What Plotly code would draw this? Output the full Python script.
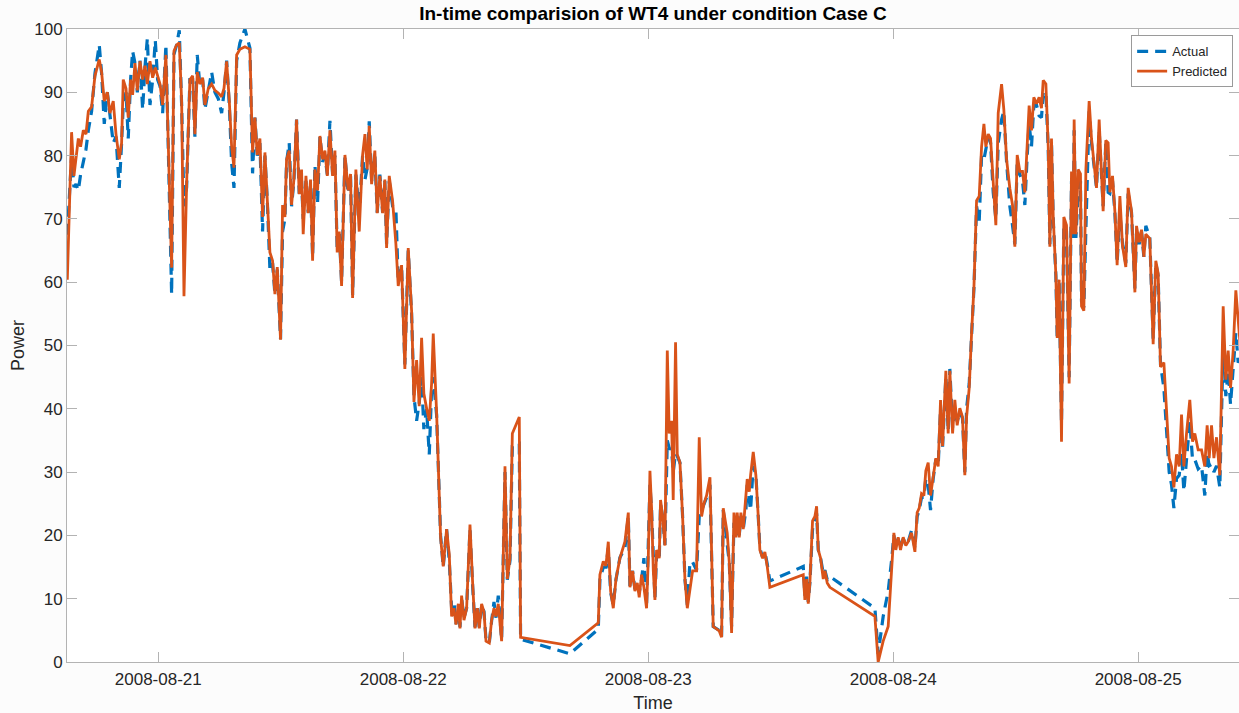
import pandas as pd
import plotly.graph_objects as go

# Wind turbine WT4: measured vs. predicted power, Case C
START = pd.Timestamp("2008-08-21 00:00")

# hours elapsed since 2008-08-21 00:00
hours = [
    -8.91, -8.49, -8.26, -8.06, -7.83, -7.61, -7.34, -7.08, -6.85, -6.53,
    -6.20, -5.78, -5.55, -5.29, -4.99, -4.73, -4.41, -4.14, -3.82, -3.59,
    -3.43, -3.16, -2.94, -2.71, -2.51, -2.28, -2.05, -1.79, -1.53, -1.30,
    -1.07, -0.81, -0.55, -0.29, -0.06, 0.17, 0.43, 0.75, 0.98, 1.31,
    1.54, 1.80, 2.06, 2.29, 2.52, 2.78, 3.10, 3.37, 3.59, 3.82,
    4.08, 4.35, 4.57, 4.90, 5.23, 5.55, 5.88, 6.21, 6.44, 6.70,
    6.96, 7.19, 7.42, 7.68, 8.00, 8.49, 8.98,
    9.24, 9.47, 9.70, 9.96, 10.22, 10.45, 10.68, 10.94, 11.20, 11.43,
    11.66, 11.98, 12.18, 12.41, 12.57, 12.83, 13.06, 13.29, 13.55, 13.81,
    14.04, 14.20, 14.47, 14.69, 14.92, 15.12, 15.35, 15.61, 15.84, 16.10,
    16.33, 16.56, 16.82, 17.08, 17.31, 17.53, 17.73, 17.96, 18.29, 18.61,
    18.84, 19.04, 19.36, 19.69, 20.02, 20.25, 20.47, 20.67, 20.90, 21.22,
    21.45, 21.71, 21.98, 22.20, 22.37, 22.63, 22.96, 23.28, 23.51, 23.84,
    24.16, 24.49, 24.82, 25.05, 25.31, 25.57, 25.80, 26.02, 26.29, 26.55,
    26.78, 26.94, 27.27, 27.53, 27.66, 27.92, 28.25,
    28.51, 28.74, 28.97, 29.17, 29.40, 29.56, 29.72, 29.95, 30.21, 30.54,
    30.80, 31.03, 31.26, 31.45, 31.68, 31.91, 32.11, 32.43, 32.66, 32.89,
    33.09, 33.31, 33.64, 33.97, 34.20, 34.46, 34.69, 35.37, 35.50, 40.33,
    43.11, 43.27, 43.60, 43.86, 44.09, 44.32, 44.58, 44.84, 45.23, 45.72,
    46.05, 46.21, 46.47, 46.70,
    46.93, 47.12, 47.35, 47.58, 47.84, 48.01, 48.17, 48.33, 48.50, 48.66,
    48.82, 49.08, 49.21, 49.41, 49.64, 49.87, 50.06, 50.29, 50.45, 50.68,
    50.85, 51.11, 51.37, 51.60, 51.83, 52.09, 52.35, 52.74, 53.00, 53.23,
    53.46, 53.72, 54.05, 54.37, 54.96, 55.19, 55.35, 55.74, 55.94, 56.17,
    56.40, 56.59, 56.72, 56.92, 57.08, 57.31, 57.57, 57.70, 57.90, 58.03,
    58.29, 58.55, 58.78, 58.94, 59.21, 59.43, 59.66, 59.92, 63.19, 63.35,
    63.52, 63.68, 63.84, 64.10, 64.33, 64.50, 64.66, 64.89, 65.15, 65.31,
    65.54, 65.80,
    70.21, 70.53, 71.02, 71.51, 71.84, 72.07, 72.26, 72.49, 72.72, 72.98,
    73.24, 73.47, 73.80, 74.13, 74.35, 74.55, 74.78, 75.01, 75.20, 75.43,
    75.66, 75.92, 76.18, 76.41, 76.64, 76.84, 77.16, 77.39, 77.55, 77.82,
    78.04, 78.27, 78.53, 78.79, 79.02, 79.19, 79.45, 79.68, 79.91, 80.17,
    80.43, 80.66, 80.89, 81.08, 81.31, 81.54, 81.80, 82.06, 82.29, 82.62,
    82.84, 83.11, 83.43, 83.69, 83.92, 84.15, 84.41,
    84.67, 84.90, 85.13, 85.32, 85.55, 85.78, 86.04, 86.30, 86.53, 86.70,
    86.96, 87.19, 87.35, 87.51, 87.68, 87.94, 88.07, 88.26, 88.49, 88.72,
    88.98, 89.24, 89.47, 89.63, 89.73, 89.90, 90.12, 90.35, 90.45, 90.68,
    90.88, 91.20, 91.43, 91.66, 91.92, 92.18, 92.41, 92.57, 92.83, 93.06,
    93.23, 93.49, 93.72, 93.94, 94.21, 94.47, 94.79, 95.02, 95.35, 95.68,
    95.84, 96.10, 96.33, 96.56, 96.75, 97.14, 97.47, 97.73, 97.96, 98.19,
    98.52, 98.78, 99.04, 99.27, 99.50, 99.76, 100.02, 100.25, 100.48, 100.74,
    101.06, 101.33, 101.55, 101.88, 102.21, 102.53, 102.76, 102.96, 103.19, 103.42,
    103.68, 104.00, 104.17, 104.33, 104.59, 104.82, 105.05, 105.31, 105.57, 105.80,
    106.00,
]

predicted = [
    60.4, 83.7, 76.8, 79.4, 82.7, 81.4, 84.0, 83.4, 87.0, 87.7,
    92.6, 95.2, 93.2, 88.6, 90.0, 86.7, 88.6, 83.4, 79.4, 82.0,
    92.0, 90.6, 86.0, 92.0, 89.6, 94.6, 90.3, 94.9, 92.0, 94.2,
    91.3, 94.9, 92.3, 93.9, 92.6, 91.3, 88.0, 95.9, 82.0, 62.3,
    96.5, 97.5, 97.8, 88.6, 57.8, 75.5, 92.0, 92.6, 83.4, 93.2,
    91.3, 92.3, 88.0, 90.6, 91.3, 90.3, 89.9, 89.3, 90.6, 94.9,
    88.6, 81.4, 78.1, 95.9, 96.8, 97.2, 96.8,
    80.5, 86.0, 80.1, 82.7, 70.3, 80.5, 73.9, 64.7, 63.4, 58.1,
    62.4, 50.9, 72.2, 70.3, 79.4, 80.8, 72.2, 76.2, 85.7, 73.9,
    77.8, 67.6, 76.8, 70.9, 76.2, 63.4, 77.8, 74.5, 83.1, 79.4,
    80.8, 76.8, 84.0, 76.8, 80.8, 64.7, 68.0, 59.4, 80.1, 74.5,
    77.1, 57.5, 77.8, 68.0, 80.1, 83.4, 77.8, 84.7, 75.5, 80.8,
    70.9, 76.8, 70.9, 76.2, 65.4, 76.8, 72.8, 66.1, 59.4, 62.7,
    46.3, 65.4, 55.5, 41.1, 47.7, 40.4, 51.2, 42.4, 40.1, 38.1,
    44.0, 51.9, 39.4, 24.3, 19.7, 15.1, 21.0,
    17.0, 7.2, 8.5, 5.9, 9.2, 5.3, 10.5, 6.6, 8.5, 21.7,
    12.5, 5.3, 8.5, 5.3, 9.2, 7.9, 3.3, 3.0, 6.6, 8.5,
    7.2, 9.2, 3.3, 30.9, 13.1, 16.4, 36.1, 38.7, 3.9, 2.6,
    6.2, 13.8, 15.9, 15.2, 19.0, 11.2, 8.5, 13.1, 16.4, 19.0,
    23.6, 11.8, 14.4, 11.2,
    12.5, 10.2, 13.8, 11.8, 8.5, 16.4, 30.2, 24.3, 14.4, 9.8,
    17.7, 16.4, 25.6, 23.0, 18.4, 49.2, 36.1, 38.1, 25.6, 50.5,
    32.8, 31.5, 23.0, 13.1, 8.5, 11.2, 14.4, 14.4, 35.5, 23.0,
    25.0, 26.3, 29.2, 5.6, 4.9, 3.9, 24.3, 20.4, 15.8, 4.6,
    23.6, 19.7, 23.6, 19.7, 23.6, 21.0, 25.6, 28.9, 26.9, 29.5,
    33.2, 29.5, 23.0, 17.7, 16.4, 17.4, 15.1, 11.8, 13.8, 9.8,
    13.1, 9.2, 12.5, 22.3, 23.0, 24.6, 17.7, 16.4, 13.1, 14.4,
    12.5, 11.8,
    7.2, 0.0, 3.3, 5.6, 14.4, 20.4, 17.7, 19.7, 17.7, 19.7,
    18.4, 19.0, 20.4, 17.4, 23.6, 24.3, 26.6, 26.3, 30.2, 31.5,
    26.3, 29.5, 32.2, 30.9, 41.4, 34.1, 46.0, 36.1, 46.0, 36.1,
    41.4, 37.4, 40.1, 38.7, 29.5, 38.7, 43.3, 51.9, 59.1, 72.9,
    73.6, 81.4, 85.0, 81.4, 83.4, 82.7, 76.2, 69.0, 86.7, 91.3,
    87.3, 79.4, 74.8, 72.2, 65.6, 80.1, 77.5,
    77.5, 74.2, 82.7, 87.9, 84.0, 89.2, 88.2, 89.2, 87.5, 91.9,
    91.3, 81.4, 65.6, 82.7, 70.3, 61.1, 51.2, 60.4, 34.8, 70.3,
    69.0, 44.0, 77.5, 67.6, 85.7, 67.6, 77.8, 77.1, 56.2, 55.5,
    77.8, 88.6, 82.7, 79.4, 74.9, 85.7, 77.8, 71.2, 82.4, 82.0,
    74.2, 76.8, 71.2, 62.7, 73.6, 65.7, 62.4, 74.9, 71.2, 58.4,
    68.9, 66.3, 68.3, 64.0, 67.6, 66.9, 50.2, 63.4, 61.4, 46.6,
    47.3, 38.7, 32.2, 30.9, 27.6, 32.8, 30.9, 39.1, 30.9, 36.1,
    41.4, 34.8, 36.1, 33.5, 33.5, 30.9, 37.4, 32.2, 37.4, 32.2,
    35.5, 29.5, 43.3, 56.2, 44.6, 49.2, 43.3, 49.2, 58.7, 53.5,
    50.0,
]

actual = [
    67.5, 80.0, 75.0, 75.5, 74.5, 77.0, 79.0, 81.0, 84.0, 87.0,
    93.0, 97.5, 93.0, 85.0, 90.0, 86.0, 82.0, 83.0, 74.9, 82.0,
    88.0, 90.0, 82.7, 92.0, 96.5, 94.6, 90.0, 95.0, 87.3, 94.0,
    98.5, 88.0, 92.0, 98.2, 92.0, 91.0, 86.7, 97.5, 82.0, 58.1,
    96.0, 97.5, 99.8, 88.0, 72.0, 75.0, 92.0, 92.0, 83.0, 95.9,
    91.0, 92.0, 87.3, 90.6, 93.2, 90.0, 89.0, 86.7, 90.0, 95.0,
    88.0, 78.8, 74.9, 95.0, 97.8, 100.0, 97.0,
    77.2, 86.0, 80.0, 82.0, 68.0, 80.0, 73.0, 62.0, 63.0, 58.1,
    62.0, 51.0, 68.0, 70.0, 79.0, 82.0, 72.0, 76.0, 85.7, 74.0,
    76.0, 70.0, 76.0, 71.0, 75.5, 64.0, 78.5, 72.6, 83.0, 79.0,
    80.0, 77.0, 85.5, 77.0, 80.0, 65.0, 68.0, 60.0, 80.0, 74.0,
    77.0, 58.0, 77.0, 70.9, 80.0, 76.2, 78.0, 85.4, 76.0, 80.0,
    71.0, 77.0, 71.0, 76.0, 66.0, 76.0, 72.0, 71.6, 60.0, 62.5,
    47.0, 65.0, 55.0, 42.0, 38.1, 41.0, 45.0, 36.8, 40.0, 32.8,
    43.0, 45.0, 39.0, 24.0, 20.0, 15.0, 21.0,
    16.0, 8.5, 9.5, 6.0, 9.0, 5.5, 10.0, 7.0, 8.5, 21.0,
    12.0, 5.5, 8.5, 5.5, 9.0, 8.0, 3.5, 3.0, 6.5, 9.5,
    7.0, 10.5, 3.5, 30.0, 13.0, 16.0, 34.1, 34.5, 3.6, 1.3,
    5.2, 13.0, 15.0, 15.0, 18.0, 11.0, 9.0, 13.0, 16.5, 18.0,
    23.0, 12.0, 14.4, 11.5,
    12.5, 11.0, 13.0, 16.4, 9.0, 21.0, 28.0, 24.0, 15.0, 10.0,
    17.0, 16.0, 25.0, 23.0, 18.5, 35.0, 33.8, 33.5, 30.0, 33.0,
    32.5, 31.5, 23.0, 13.0, 9.0, 15.8, 15.8, 14.5, 23.0, 24.0,
    25.0, 26.0, 28.0, 5.6, 5.0, 4.0, 24.0, 18.0, 15.8, 5.6,
    22.0, 20.0, 23.0, 20.0, 23.0, 21.0, 24.0, 28.0, 26.0, 24.0,
    31.0, 29.5, 23.0, 18.0, 16.5, 17.4, 15.5, 12.8, 15.1, 10.5,
    13.5, 9.5, 12.5, 21.0, 22.0, 23.5, 17.7, 16.4, 14.0, 14.5,
    13.0, 13.5,
    8.5, 1.3, 7.2, 11.2, 16.0, 20.0, 18.0, 19.5, 18.0, 19.5,
    18.5, 19.0, 20.8, 18.0, 23.0, 24.0, 26.0, 26.0, 29.0, 28.0,
    24.0, 29.0, 32.0, 30.9, 40.0, 34.0, 45.0, 36.5, 46.3, 37.0,
    40.0, 38.0, 39.5, 38.5, 30.0, 40.0, 44.0, 51.5, 59.0, 72.0,
    69.6, 80.0, 79.4, 81.0, 83.0, 82.0, 74.2, 70.0, 82.0, 85.7,
    87.0, 79.0, 72.0, 69.0, 66.0, 79.0, 77.0,
    76.0, 72.2, 80.0, 85.0, 81.4, 88.0, 88.0, 86.3, 86.0, 90.0,
    90.0, 81.0, 66.0, 82.0, 70.0, 61.0, 51.0, 60.0, 37.7, 69.0,
    68.0, 45.0, 76.0, 67.0, 84.0, 67.0, 74.2, 76.0, 57.0, 56.0,
    68.3, 87.0, 82.0, 79.0, 74.9, 84.0, 77.5, 72.0, 82.0, 74.2,
    74.0, 76.0, 71.0, 63.0, 70.9, 66.0, 63.0, 74.0, 71.0, 59.0,
    68.0, 66.0, 68.0, 64.0, 68.9, 67.0, 51.0, 63.0, 61.0, 47.0,
    43.3, 36.1, 30.0, 28.0, 24.3, 29.0, 29.5, 33.0, 27.0, 32.0,
    38.0, 31.9, 32.0, 30.5, 31.0, 26.3, 33.0, 31.0, 31.2, 30.0,
    31.0, 27.6, 40.0, 50.0, 42.0, 46.0, 40.7, 46.0, 52.0, 47.3,
    48.0,
]

day_ticks = ["2008-08-21", "2008-08-22", "2008-08-23", "2008-08-24", "2008-08-25"]
power_ticks = list(range(0, 101, 10))

time = START + pd.to_timedelta(hours, unit="h")
x_range = [START + pd.Timedelta(hours=-8.94), START + pd.Timedelta(hours=105.88)]

BLUE = "#0072BD"
ORANGE = "#D95319"
AXIS = "#b3b3b3"
TEXT = "#262626"
FONT = "Liberation Sans, Arial, sans-serif"

fig = go.Figure()
fig.add_trace(go.Scatter(
    x=time, y=actual, name="Actual", mode="lines",
    line=dict(color=BLUE, width=3.2, dash="11px,7px"),
))
fig.add_trace(go.Scatter(
    x=time, y=predicted, name="Predicted", mode="lines",
    line=dict(color=ORANGE, width=2.8),
))

fig.update_layout(
    width=1239, height=713,
    margin=dict(l=67, r=0, t=29, b=51),
    paper_bgcolor="#fcfcfc",
    plot_bgcolor="#ffffff",
    font=dict(family=FONT, color=TEXT, size=17),
    title=dict(
        text="<b>In-time comparision of WT4 under condition Case C</b>",
        x=0.5, xref="paper", xanchor="center",
        y=0.981, yref="container", yanchor="middle",
        font=dict(family=FONT, size=19, color="#000000"),
    ),
    legend=dict(
        x=0.995, y=0.99, xanchor="right", yanchor="top",
        bgcolor="#ffffff", bordercolor="#9a9a9a", borderwidth=1,
        font=dict(family=FONT, size=13, color=TEXT),
        itemwidth=30, tracegroupgap=0,
    ),
    showlegend=True,
)

fig.update_xaxes(
    type="date", range=x_range,
    tickvals=day_ticks, ticktext=day_ticks,
    ticks="inside", ticklen=10, tickcolor=AXIS, tickwidth=1,
    showline=True, linecolor=AXIS, linewidth=1, mirror="ticks",
    showgrid=False, zeroline=False,
    tickfont=dict(family=FONT, size=17, color=TEXT),
    ticklabelstandoff=2,
    title=dict(text="Time", font=dict(family=FONT, size=18, color=TEXT), standoff=9),
)
fig.update_yaxes(
    range=[0, 100], tickvals=power_ticks,
    ticks="inside", ticklen=10, tickcolor=AXIS, tickwidth=1,
    showline=True, linecolor=AXIS, linewidth=1, mirror="ticks",
    showgrid=False, zeroline=False,
    tickfont=dict(family=FONT, size=17, color=TEXT),
    title=dict(text="Power", font=dict(family=FONT, size=18, color=TEXT), standoff=4),
)

fig.write_html("out.html")
